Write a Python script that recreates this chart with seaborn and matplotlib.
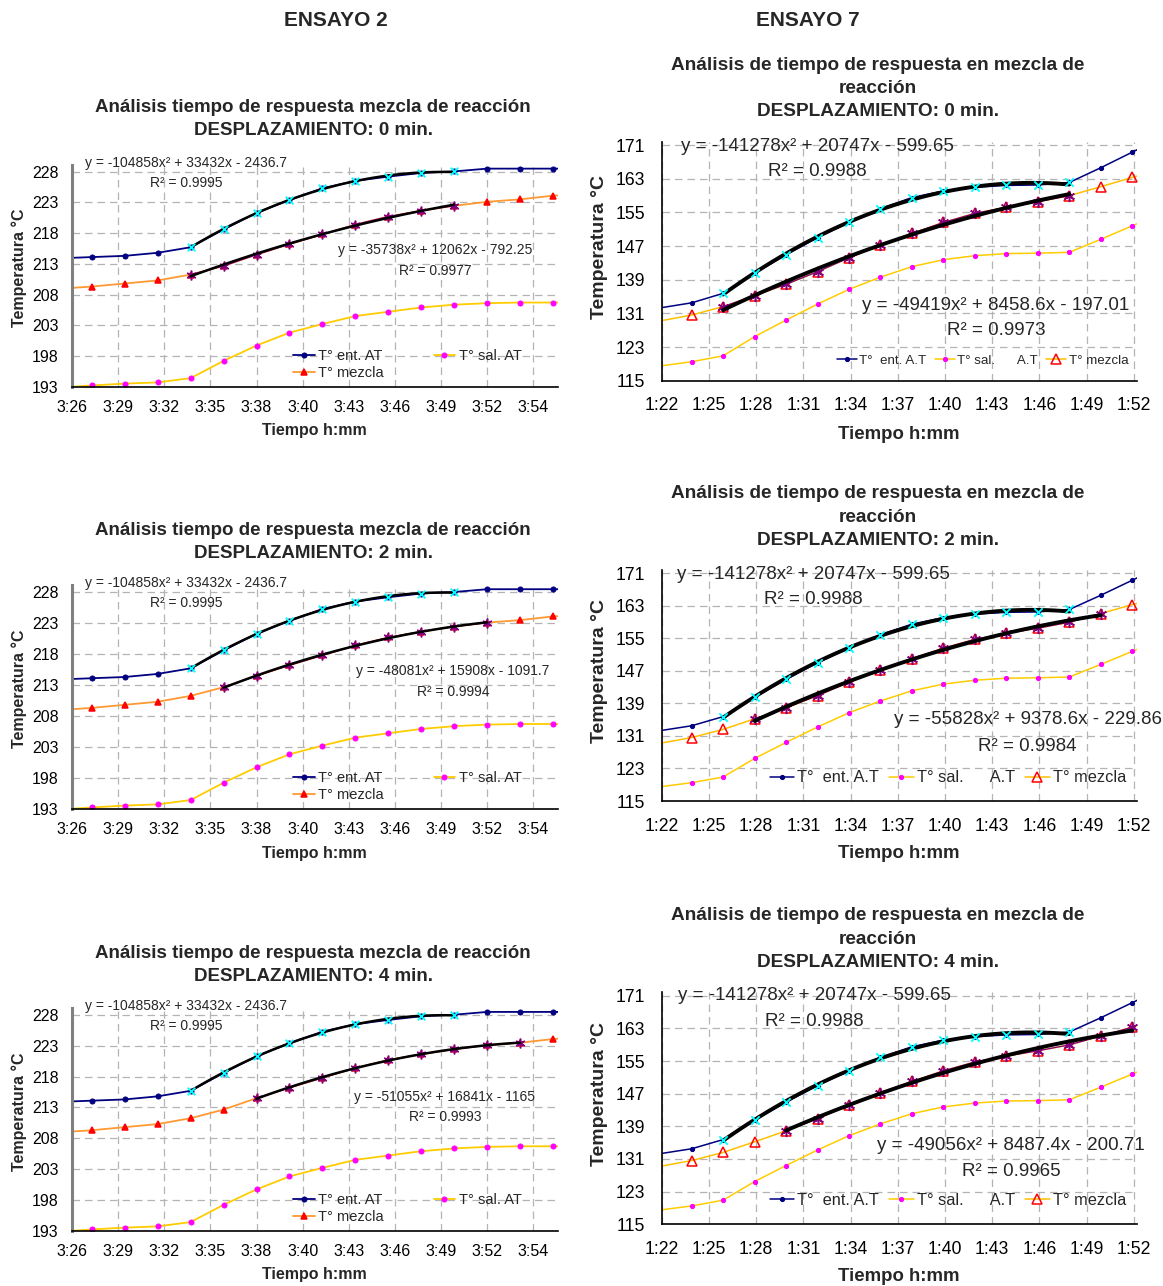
import numpy as np
import matplotlib.pyplot as plt
import seaborn as sns

sns.set_theme(style="white")
plt.rcParams['font.family'] = ['Liberation Sans', 'DejaVu Sans']

# =============================================================================
# DATOS – ENSAYO 2 (tiempo en minutos después de las 3:00)
# =============================================================================
t_e2 = [26.1, 28.1, 30.1, 32.1, 34.1, 36.1, 38.1, 40.1, 42.1, 44.1, 46.1, 48.1,
        50.1, 52.1, 54.1, 56.1, 58.1]
ent_e2 = [213.9, 214.1, 214.3, 214.8, 215.7, 218.6, 221.3, 223.4, 225.3, 226.5,
          227.2, 227.8, 228.05, 228.5, 228.5, 228.5, 228.5]
sal_e2 = [192.85, 193.2, 193.5, 193.7, 194.4, 197.2, 199.7, 201.8, 203.2, 204.5,
          205.2, 205.9, 206.35, 206.6, 206.7, 206.7, 206.7]
mez_e2 = [208.95, 209.3, 209.8, 210.3, 211.25, 212.65, 214.5, 216.2, 217.8, 219.4,
          220.7, 221.65, 222.45, 223.1, 223.5, 224.1, 224.4]
ticks_e2 = ['3:26', '3:29', '3:32', '3:35', '3:38', '3:40', '3:43', '3:46',
            '3:49', '3:52', '3:54']

# =============================================================================
# DATOS – ENSAYO 7 (tiempo en minutos después de la 1:00)
# =============================================================================
t_e7 = [79.9, 83.9, 85.9, 87.9, 89.9, 91.9, 93.9, 95.9, 97.9, 99.9, 101.9, 103.9,
        105.9, 107.9, 109.9, 111.9, 113.9]
ent_e7 = [131.1, 133.5, 135.75, 140.5, 144.9, 149.0, 152.6, 155.9, 158.5, 160.1,
          160.95, 161.4, 161.5, 162.1, 165.6, 169.3, 173.0]
sal_e7 = [117.5, 119.5, 120.9, 125.46, 129.4, 133.2, 136.7, 139.6, 142.1, 143.75,
          144.7, 145.2, 145.3, 145.5, 148.6, 151.8, 155.0]
mez_e7 = [127.8, 130.6, 132.6, 135.2, 137.9, 140.9, 144.2, 147.24, 150.0, 152.6,
          154.76, 156.2, 157.5, 158.96, 161.1, 163.3, 165.5]
ticks_e7 = ['1:22', '1:25', '1:28', '1:31', '1:34', '1:37', '1:40', '1:43',
            '1:46', '1:49', '1:52']

# Ventanas (índices inicio, fin) usadas para las líneas de tendencia
win_ent_e2 = (4, 12)
win_mez_e2 = [(4, 12), (5, 13), (6, 14)]
win_ent_e7 = (2, 13)
win_mez_e7 = [(2, 13), (3, 14), (4, 15)]

desplaz = ['0 min.', '2 min.', '4 min.']

eq_ent_e2 = ('y = -104858x² + 33432x - 2436.7', 'R² = 0.9995')
eq_mez_e2 = [('y = -35738x² + 12062x - 792.25', 'R² = 0.9977'),
             ('y = -48081x² + 15908x - 1091.7', 'R² = 0.9994'),
             ('y = -51055x² + 16841x - 1165', 'R² = 0.9993')]
eq_ent_e7 = ('y = -141278x² + 20747x - 599.65', 'R² = 0.9988')
eq_mez_e7 = [('y = -49419x² + 8458.6x - 197.01', 'R² = 0.9973'),
             ('y = -55828x² + 9378.6x - 229.86', 'R² = 0.9984'),
             ('y = -49056x² + 8487.4x - 200.71', 'R² = 0.9965')]

NAVY = '#000080'
AMARILLO = '#FFCC00'
MAGENTA = '#FF00FF'
CIAN = '#00FFFF'
PURPURA = '#800080'

W, H = 1163, 1286
fig = plt.figure(figsize=(W / 100, H / 100), dpi=100)


def caja(l, t, r, b, s):
    # t = posición de la última línea de cuadrícula; el área sube un poco más
    ylo, ytop, yhi = s['ylim'][0], s['ytop'], s['ylim'][1]
    t = t - (yhi - ytop) * (b - t) / (ytop - ylo)
    return [l / W, 1 - b / H, (r - l) / W, (b - t) / H]


def panel(ax, t, ent, sal, mez, w_ent, w_mez, s):
    sns.lineplot(x=t, y=ent, ax=ax, color=NAVY, linewidth=s['lw'], marker='o',
                 markersize=s['ms'], markerfacecolor=NAVY, markeredgecolor=NAVY,
                 label=s['labels'][0], zorder=2)
    sns.lineplot(x=t, y=sal, ax=ax, color=AMARILLO, linewidth=s['lw'], marker='o',
                 markersize=s['ms'], markerfacecolor=MAGENTA, markeredgecolor=MAGENTA,
                 label=s['labels'][1], zorder=2)
    sns.lineplot(x=t, y=mez, ax=ax, color=s['c_mez'], linewidth=s['lw'], marker='^',
                 markersize=s['ms_mez'], markerfacecolor=s['fc_mez'],
                 markeredgecolor='red', markeredgewidth=1.1,
                 label=s['labels'][2], zorder=2)

    # serie desplazada T° ent + tendencia
    i0, i1 = w_ent
    tw, yw = t[i0:i1 + 1], ent[i0:i1 + 1]
    sns.regplot(x=tw, y=yw, order=2, ci=None, scatter=False, truncate=True, ax=ax,
                line_kws=dict(color='black', linewidth=s['lw_fit'], zorder=4))
    sns.scatterplot(x=tw, y=yw, ax=ax, marker='x', color=CIAN, s=s['s_x'],
                    linewidth=1.3, zorder=5)

    # serie desplazada T° mezcla + tendencia
    j0, j1 = w_mez
    tm, ym = t[j0:j1 + 1], mez[j0:j1 + 1]
    sns.lineplot(x=tm, y=ym, ax=ax, color=PURPURA, linewidth=0.9, marker=(6, 2, 0),
                 markersize=s['ms_ast'], markeredgecolor=PURPURA,
                 markeredgewidth=1.1, zorder=3)
    sns.regplot(x=tm, y=ym, order=2, ci=None, scatter=False, truncate=True, ax=ax,
                line_kws=dict(color='black', linewidth=s['lw_fit'], zorder=4))

    ax.set_xlim(s['xlim'])
    ax.set_ylim(s['ylim'])
    ax.set_xticks(s['xticks'])
    ax.set_xticklabels(s['xlabels'])
    ax.set_yticks(s['yticks'])
    ax.grid(True, color='#B4B4B4', linestyle=(0, (6, 4)), linewidth=0.9)
    ax.set_axisbelow(True)
    for side in ['top', 'right']:
        ax.spines[side].set_visible(False)
    ax.spines['bottom'].set_color('black')
    ax.spines['bottom'].set_linewidth(1.2)
    ax.spines['left'].set_color(s['c_spine'])
    ax.spines['left'].set_linewidth(s['lw_spine'])
    ax.tick_params(direction='inout', length=7, width=1, color='black',
                   labelsize=s['fs_tick'], pad=s['pad'], labelcolor='black')

    # fracción de eje referida al rango [ymin, última línea de cuadrícula]
    f = (s['ytop'] - s['ylim'][0]) / (s['ylim'][1] - s['ylim'][0])

    ax.set_xlabel('Tiempo h:mm', fontsize=s['fs_lab'], fontweight='bold')
    ax.set_ylabel('Temperatura °C', fontsize=s['fs_lab_y'], fontweight='bold')
    ax.xaxis.set_label_coords(0.498, s['xlab_y'] * f)
    ax.xaxis.label.set_va('center')
    ax.yaxis.set_label_coords(s['ylab_x'], s['ylab_y'] * f)
    ax.yaxis.label.set_va('center')

    h, l = ax.get_legend_handles_labels()
    mapa = dict(zip(l, h))
    orden = [s['labels'][k] for k in s['orden']]
    lx, ly = s['leg_pos']
    ax.legend([mapa[k] for k in orden], orden, ncol=s['ncol'], loc='center',
              bbox_to_anchor=(lx, ly * f), frameon=False, fontsize=s['fs_leg'],
              handlelength=s['hl'], handletextpad=s['htp'],
              columnspacing=s['cs'], labelspacing=0.2, borderpad=0)
    return f


def texto(ax, x, y, txt, f, fs):
    ax.text(x, y * f, txt, transform=ax.transAxes, ha='center', va='center',
            fontsize=fs)


# =============================================================================
# ENSAYO 2 (columna izquierda)
# =============================================================================
est_e2 = dict(lw=1.3, ms=3.6, ms_mez=5, c_mez='#FF9933', fc_mez='red', lw_fit=1.8,
              s_x=30, ms_ast=7, xlim=(26.9, 56.4), ylim=(193, 229.1), ytop=228,
              xticks=np.linspace(26.9, 54.9, 11), xlabels=ticks_e2,
              yticks=np.arange(193, 229, 5), c_spine='#808080', lw_spine=2.2,
              fs_tick=11.5, pad=6, fs_lab=11.5, fs_lab_y=11.5, xlab_y=-0.205,
              ylab_x=-0.109, ylab_y=0.552,
              labels=['T° ent. AT', 'T° sal. AT', 'T° mezcla'], orden=[0, 2, 1],
              ncol=2, leg_pos=(0.69, 0.102), fs_leg=10.5, hl=1.5, htp=0.25, cs=3.4)

filas_e2 = [(171.7, 386.7), (592.3, 808.7), (1015.0, 1230.7)]
tit_e2 = [107.3, 530.3, 953.3]
pos_eq2 = [(0.747, 0.636, 0.538), (0.784, 0.636, 0.538), (0.767, 0.618, 0.528)]

for k in range(3):
    top, bot = filas_e2[k]
    ax = fig.add_axes(caja(72, top, 558, bot, est_e2))
    f = panel(ax, t_e2, ent_e2, sal_e2, mez_e2, win_ent_e2, win_mez_e2[k], est_e2)
    texto(ax, 0.235, 1.042, eq_ent_e2[0], f, 10)
    texto(ax, 0.235, 0.949, eq_ent_e2[1], f, 10)
    px, py1, py2 = pos_eq2[k]
    texto(ax, px, py1, eq_mez_e2[k][0], f, 10)
    texto(ax, px, py2, eq_mez_e2[k][1], f, 10)
    y0 = tit_e2[k]
    fig.text(313 / W, 1 - y0 / H, 'Análisis tiempo de respuesta mezcla de reacción',
             ha='center', va='center', fontsize=13.5, fontweight='bold')
    fig.text(313 / W, 1 - (y0 + 23.5) / H, 'DESPLAZAMIENTO: ' + desplaz[k],
             ha='center', va='center', fontsize=13.5, fontweight='bold')

# =============================================================================
# ENSAYO 7 (columna derecha)
# =============================================================================
est_e7 = dict(lw=1.1, ms=3, ms_mez=7, c_mez='#FFC000', fc_mez='none', lw_fit=2.8,
              s_x=36, ms_ast=8, xlim=(82, 112.2), ylim=(115, 171.8), ytop=171,
              xticks=np.arange(82, 113, 3), xlabels=ticks_e7,
              yticks=np.arange(115, 172, 8), c_spine='black', lw_spine=1.2,
              fs_tick=12.7, pad=8.5, fs_lab=13.4, fs_lab_y=14, xlab_y=-0.23,
              ylab_x=-0.13, ylab_y=0.569,
              labels=['T°  ent. A.T', 'T° sal.      A.T', 'T° mezcla'],
              orden=[0, 1, 2], ncol=3, leg_pos=(0.675, 0.085), fs_leg=9.6,
              hl=1.5, htp=0.2, cs=0.6)

filas_e7 = [(145.0, 380.7), (573.3, 801.0), (995.7, 1224.3)]
tit_e7 = [65.0, 494.0, 916.0]
pos_eq7_ent = [(0.327, 0.993, 0.887), (0.32, 0.996, 0.886), (0.321, 0.999, 0.886)]
pos_eq7_mez = [(0.703, 0.321, 0.215), (0.77, 0.356, 0.238), (0.735, 0.344, 0.233)]
leg7 = [((0.675, 0.085), 9.6), ((0.602, 0.102), 11.8), ((0.602, 0.106), 11.8)]

for k in range(3):
    top, bot = filas_e7[k]
    ax = fig.add_axes(caja(661.7, top, 1137, bot, est_e7))
    est = dict(est_e7, leg_pos=leg7[k][0], fs_leg=leg7[k][1])
    f = panel(ax, t_e7, ent_e7, sal_e7, mez_e7, win_ent_e7, win_mez_e7[k], est)
    px, py1, py2 = pos_eq7_ent[k]
    texto(ax, px, py1, eq_ent_e7[0], f, 13.5)
    texto(ax, px, py2, eq_ent_e7[1], f, 13.5)
    px, py1, py2 = pos_eq7_mez[k]
    texto(ax, px, py1, eq_mez_e7[k][0], f, 13.5)
    texto(ax, px, py2, eq_mez_e7[k][1], f, 13.5)
    y0 = tit_e7[k]
    fig.text(878 / W, 1 - y0 / H, 'Análisis de tiempo de respuesta en mezcla de',
             ha='center', va='center', fontsize=13.7, fontweight='bold')
    fig.text(878 / W, 1 - (y0 + 23.3) / H, 'reacción',
             ha='center', va='center', fontsize=13.7, fontweight='bold')
    fig.text(878 / W, 1 - (y0 + 46.5) / H, 'DESPLAZAMIENTO: ' + desplaz[k],
             ha='center', va='center', fontsize=13.7, fontweight='bold')

fig.text(336 / W, 1 - 20.5 / H, 'ENSAYO 2', ha='center', va='center',
         fontsize=15, fontweight='bold')
fig.text(808 / W, 1 - 20.5 / H, 'ENSAYO 7', ha='center', va='center',
         fontsize=15, fontweight='bold')

fig.savefig('out.png', dpi=100)
